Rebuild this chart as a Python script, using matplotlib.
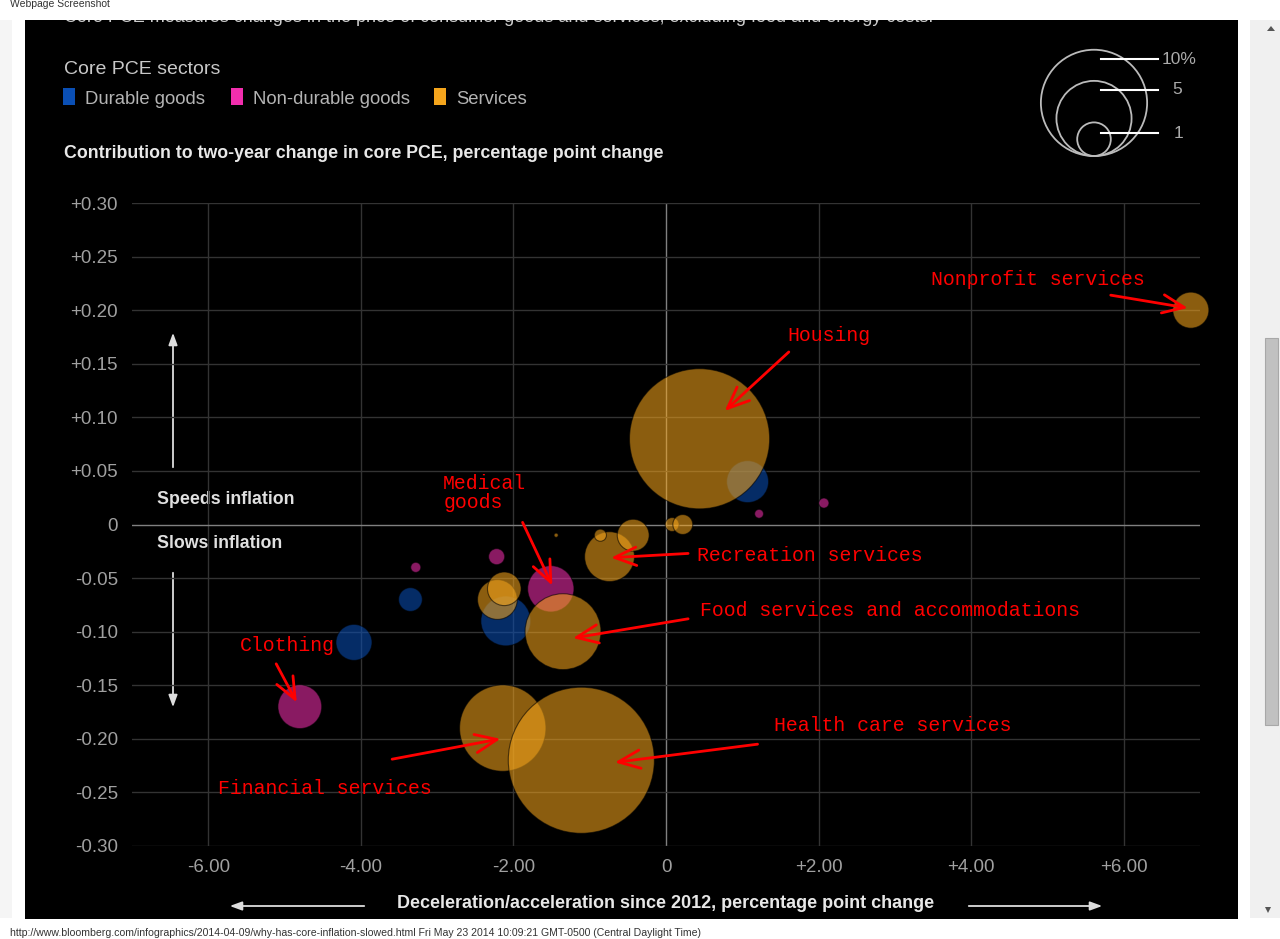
import matplotlib
matplotlib.use("Agg")
import matplotlib.pyplot as plt
from matplotlib.patches import Rectangle, Circle, Polygon
import numpy as np

plt.rcParams["font.family"] = ["Liberation Sans", "DejaVu Sans"]

# bubble data: x = deceleration/acceleration since 2012 (pp), y = contribution (pp),
# w = share of core PCE (%), bubble area proportional to w
durable_x = [1.07, -2.10, -3.35, -4.09]
durable_y = [0.04, -0.09, -0.07, -0.11]
durable_w = [1.56, 2.2, 0.5, 1.15]

nondurable_x = [1.22, 2.07, -2.22, -3.28, -1.51, -4.80]
nondurable_y = [0.01, 0.02, -0.03, -0.04, -0.06, -0.17]
nondurable_w = [0.07, 0.09, 0.23, 0.09, 1.9, 1.7]

services_x = [0.44, -2.14, -1.11, -1.35, 6.88, -0.74, -0.43, -0.86, -1.44, 0.08, 0.22, -2.21, -2.12]
services_y = [0.08, -0.19, -0.22, -0.10, 0.20, -0.03, -0.01, -0.01, -0.01, 0.00, 0.00, -0.07, -0.06]
services_w = [17.4, 6.6, 18.9, 5.1, 1.15, 2.2, 0.9, 0.13, 0.015, 0.17, 0.35, 1.4, 1.0]

size_legend = [10, 5, 1]
size_labels = ["10%", "5", "1"]

x_ticks = [-6, -4, -2, 0, 2, 4, 6]
y_ticks = [-0.30, -0.25, -0.20, -0.15, -0.10, -0.05, 0, 0.05, 0.10, 0.15, 0.20, 0.25, 0.30]

# red hand-drawn notes: label, text pos, arrow tail, arrow tip (data coords)
notes = [
    ("Nonprofit services", (3.48, 0.229), (5.83, 0.214), (6.84, 0.202)),
    ("Housing", (1.59, 0.176), (1.61, 0.161), (0.77, 0.106)),
    ("Medical\ngoods", (-2.92, 0.029), (-1.88, 0.002), (-1.49, -0.057)),
    ("Recreation services", (0.41, -0.029), (0.29, -0.027), (-0.72, -0.031)),
    ("Food services and accommodations", (0.44, -0.080), (0.29, -0.088), (-1.22, -0.106)),
    ("Clothing", (-5.58, -0.113), (-5.11, -0.130), (-4.84, -0.166)),
    ("Health care services", (1.42, -0.188), (1.20, -0.205), (-0.67, -0.222)),
    ("Financial services", (-5.87, -0.246), (-3.59, -0.219), (-2.17, -0.200)),
]

BLUE = "#0a4fb5"
MAGENTA = "#f22eae"
ORANGE = "#f5a51c"
W, H = 1280, 939
PX_PER_SQRT = 16.8  # bubble radius in px for 1% share


def area(w):
    r_pt = PX_PER_SQRT * np.sqrt(np.asarray(w)) * 0.72
    return (2 * r_pt) ** 2


fig = plt.figure(figsize=(W / 100, H / 100), dpi=100, facecolor="white")

# page layer in pixel coords
bg = fig.add_axes([0, 0, 1, 1], zorder=0)
bg.set_xlim(0, W)
bg.set_ylim(H, 0)
bg.axis("off")

bg.add_patch(Rectangle((0, 20), 12, 898, color="#f5f5f5", lw=0))
bg.add_patch(Rectangle((25, 20), 1213, 899, color="black", lw=0))
bg.add_patch(Rectangle((1250, 20), 30, 898, color="#f0f0f0", lw=0))
bg.add_patch(Rectangle((1265, 338), 13, 387, facecolor="#c1c1c1", edgecolor="#a8a8a8", lw=0.8))
bg.add_patch(Polygon([[1267, 31], [1275, 31], [1271, 26]], color="#555555", lw=0))
bg.add_patch(Polygon([[1265, 907], [1271, 907], [1268, 913]], color="#555555", lw=0))

# intro line scrolled off the top of the page, only its lower edge shows
bg.text(64, 22.5, "Core PCE measures changes in the price of consumer goods and services, "
        "excluding food and energy costs.", fontsize=13, color="#cccccc", va="baseline", zorder=1)
bg.add_patch(Rectangle((0, 0), W, 20, color="white", lw=0, zorder=2))

bg.text(10, 4, "Webpage Screenshot", fontsize=7.5, color="#333333", va="center", zorder=3)
bg.text(10, 933, "http://www.bloomberg.com/infographics/2014-04-09/why-has-core-inflation-slowed.html "
        "Fri May 23 2014 10:09:21 GMT-0500 (Central Daylight Time)",
        fontsize=7.6, color="#333333", va="center")

bg.text(64, 69, "Core PCE sectors", fontsize=14, color="#c8c8c8", va="center")
for x0, col, lab in [(63, BLUE, "Durable goods"), (231, MAGENTA, "Non-durable goods"),
                     (434, ORANGE, "Services")]:
    bg.add_patch(Rectangle((x0, 88), 12, 17, color=col, lw=0))
    bg.text(x0 + 22, 99, lab, fontsize=13.3, color="#b4b4b4", va="center")

bg.text(64, 153, "Contribution to two-year change in core PCE, percentage point change",
        fontsize=12.8, color="#e8e8e8", va="center", fontweight="bold")

# size legend
for v, lab, ly, lx in zip(size_legend, size_labels, [59, 90, 133], [1162, 1172, 1174]):
    r = PX_PER_SQRT * np.sqrt(v)
    bg.add_patch(Circle((1094, 156 - r), r, facecolor="none", edgecolor="#bbbbbb", lw=1.3))
    bg.plot([1101, 1158], [ly, ly], color="white", lw=1.5)
    bg.text(lx, ly, lab, fontsize=12.5, color="#aaaaaa", va="center")

# direction arrows and labels
arr = dict(arrowstyle="-|>,head_length=0.6,head_width=0.22", color="#dddddd", lw=1.3,
           mutation_scale=12)
bg.annotate("", xy=(173, 330), xytext=(173, 470), arrowprops=arr)
bg.annotate("", xy=(173, 710), xytext=(173, 570), arrowprops=arr)
bg.annotate("", xy=(227, 906), xytext=(367, 906), arrowprops=arr)
bg.annotate("", xy=(1105, 906), xytext=(966, 906), arrowprops=arr)
bg.text(157, 500, "Speeds inflation", fontsize=12.8, color="#e0e0e0", va="center", fontweight="bold")
bg.text(157, 543, "Slows inflation", fontsize=12.8, color="#e0e0e0", va="center", fontweight="bold")
bg.text(666, 903, "Deceleration/acceleration since 2012, percentage point change",
        fontsize=13, color="#e8e8e8", va="center", ha="center", fontweight="bold")

# chart
ax = fig.add_axes([132 / W, 1 - 846 / H, (1200 - 132) / W, (846 - 203) / H], zorder=1)
ax.set_facecolor("none")
ax.set_xlim(-7, 7)
ax.set_ylim(-0.30, 0.30)
for s in ax.spines.values():
    s.set_visible(False)

for xv in x_ticks:
    ax.axvline(xv, color="#808080" if xv == 0 else "#333333", lw=1, zorder=0.5)
for yv in y_ticks:
    ax.axhline(yv, color="#808080" if yv == 0 else "#333333", lw=1, zorder=0.5)

ax.set_xticks(x_ticks)
ax.set_xticklabels(["0" if v == 0 else f"{v:+.2f}" for v in x_ticks])
ax.set_yticks(y_ticks)
ax.set_yticklabels(["0" if abs(v) < 1e-9 else f"{v:+.2f}" for v in y_ticks])
ax.tick_params(length=0, colors="#a0a0a0", labelsize=13.5)
ax.tick_params(axis="x", pad=9)
ax.tick_params(axis="y", pad=10)

for xs, ys, ws, col in [(durable_x, durable_y, durable_w, BLUE),
                        (nondurable_x, nondurable_y, nondurable_w, MAGENTA),
                        (services_x, services_y, services_w, ORANGE)]:
    ax.scatter(xs, ys, s=area(ws), color=col, alpha=0.57, edgecolors="#00000055",
               linewidths=0.8, zorder=2, clip_on=False)

for lab, tpos, tail, tip in notes:
    ax.text(tpos[0], tpos[1], lab, fontsize=14.3, color="red", family="Liberation Mono",
            va="center", ha="left", zorder=5, linespacing=1.0)
    ax.annotate("", xy=tip, xytext=tail, zorder=5, annotation_clip=False,
                arrowprops=dict(arrowstyle="->,head_length=1.3,head_width=0.55",
                                color="red", lw=2, mutation_scale=12,
                                shrinkA=0, shrinkB=0))

fig.savefig("out.png", dpi=100, facecolor="white")
